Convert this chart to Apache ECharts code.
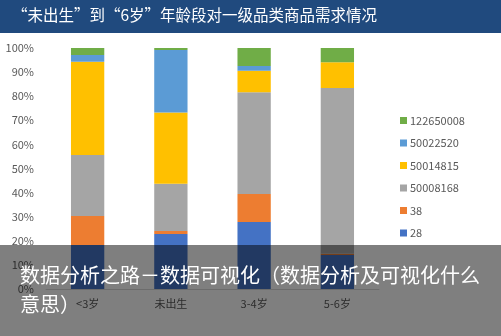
<!DOCTYPE html>
<html>
<head>
<meta charset="utf-8">
<script src="https://cdn.jsdelivr.net/npm/echarts@6/dist/echarts.min.js"></script>
<style>
  html, body { margin: 0; padding: 0; background: #fff; }
  #chart { width: 501px; height: 336px; }
</style>
</head>
<body>
<div id="chart"></div>
<script>
// Age groups along the x axis
const categories = ['<3岁', '未出生', '3-4岁', '5-6岁'];

// Share (%) of each top-level category id within an age group
const s28        = [18.3, 22.8, 27.8, 14.1];
const s38        = [12.0, 1.3, 11.6, 0.5];
const s50008168  = [25.3, 19.6, 42.2, 68.8];
const s50014815  = [38.7, 29.5, 9.0, 10.7];
const s50022520  = [2.8, 26.0, 1.9, 0];
const s122650008 = [2.9, 0.8, 7.5, 5.9];

const yTicks = [0, 10, 20, 30, 40, 50, 60, 70, 80, 90, 100];

const titleText = '“未出生”到“6岁”年龄段对一级品类商品需求情况';
const bannerText = '数据分析之路－数据可视化（数据分析及可视化什么\n意思）';

const seriesDefs = [
  { name: '28', data: s28, color: '#4472c4' },
  { name: '38', data: s38, color: '#ed7d31' },
  { name: '50008168', data: s50008168, color: '#a5a5a5' },
  { name: '50014815', data: s50014815, color: '#ffc000' },
  { name: '50022520', data: s50022520, color: '#5b9bd5' },
  { name: '122650008', data: s122650008, color: '#70ad47' }
];

const font = '"Noto Sans CJK SC", "Noto Sans", sans-serif';
const chart = echarts.init(document.getElementById('chart'), null, { renderer: 'canvas' });

chart.setOption({
  animation: false,
  backgroundColor: '#ffffff',
  textStyle: { fontFamily: font },
  grid: { left: 46, right: 122, top: 48, bottom: 47 },
  legend: {
    orient: 'vertical',
    left: 395,
    top: 110,
    itemWidth: 7,
    itemHeight: 7,
    itemGap: 11.5,
    icon: 'rect',
    data: ['122650008', '50022520', '50014815', '50008168', '38', '28'],
    textStyle: { fontSize: 11, color: '#595959', padding: [0, 0, 0, -2] }
  },
  xAxis: {
    type: 'category',
    data: categories,
    axisLine: { lineStyle: { color: '#d9d9d9' } },
    axisTick: { show: false },
    axisLabel: { fontSize: 11, color: '#595959', margin: 9 }
  },
  yAxis: {
    type: 'value',
    min: yTicks[0],
    max: yTicks[yTicks.length - 1],
    interval: yTicks[1] - yTicks[0],
    splitLine: { show: false },
    axisLine: { show: false },
    axisTick: { show: false },
    axisLabel: { fontSize: 11, color: '#595959', margin: 12, formatter: '{value}%' }
  },
  series: seriesDefs.map(d => ({
    name: d.name,
    type: 'bar',
    stack: 'total',
    barWidth: '40%',
    data: d.data,
    itemStyle: { color: d.color }
  })),
  graphic: [
    {
      type: 'rect',
      left: 0, top: 0,
      shape: { width: 501, height: 33 },
      style: { fill: '#204a7e' },
      z: 10
    },
    {
      type: 'text',
      left: 12, top: 7,
      style: { text: titleText, fill: '#ffffff', fontSize: 15.5, fontFamily: font },
      z: 11
    },
    {
      type: 'rect',
      left: 0, top: 245,
      shape: { width: 501, height: 91 },
      style: { fill: 'rgba(0,0,0,0.5)' },
      z: 100
    },
    {
      type: 'text',
      left: 20, top: 261,
      style: {
        text: bannerText,
        fill: '#ffffff',
        fontSize: 20,
        lineHeight: 29,
        fontFamily: font
      },
      z: 101
    }
  ]
});
</script>
</body>
</html>
